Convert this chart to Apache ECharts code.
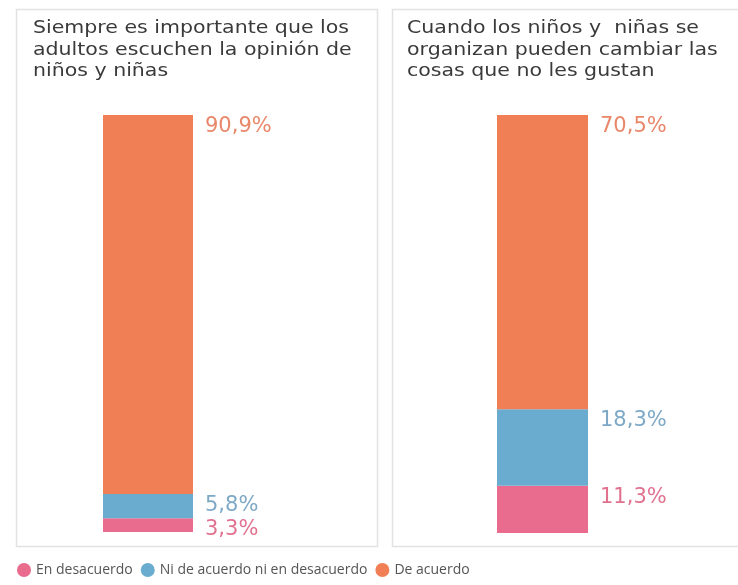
<!DOCTYPE html>
<html><head><meta charset="utf-8">
<script src="https://cdn.jsdelivr.net/npm/echarts@6/dist/echarts.min.js"></script>
<style>html,body{margin:0;padding:0;background:#fff}#c{width:738px;height:585px}</style>
</head><body><div id="c"></div>
<script>
const panelTitles = [
  'Siempre es importante que los\nadultos escuchen la opinión de\nniños y niñas',
  'Cuando los niños y  niñas se\norganizan pueden cambiar las\ncosas que no les gustan'
];
const seriesNames = ['En desacuerdo', 'Ni de acuerdo ni en desacuerdo', 'De acuerdo'];
const enDesacuerdo = [3.3, 11.3];
const niDeAcuerdoNiEnDesacuerdo = [5.8, 18.3];
const deAcuerdo = [90.9, 70.5];

const barColors = ['#e96b8d', '#6aacd0', '#f07f55'];
const labelColors = ['#e0728f', '#7ea9c6', '#e8876a'];
const values = [enDesacuerdo, niDeAcuerdoNiEnDesacuerdo, deAcuerdo];
const FONT = '"Open Sans", "Noto Sans", sans-serif';
const WIDE = '"DejaVu Sans", "Open Sans", sans-serif';

const chart = echarts.init(document.getElementById('c'), null, {renderer: 'canvas'});
const grids = [
  {left: 103, width: 90, top: 115, bottom: 53},
  {left: 497, width: 91, top: 115, bottom: 52}
];
const series = [];
for (let g = 0; g < 2; g++) {
  for (let s = 0; s < 3; s++) {
    series.push({
      name: seriesNames[s],
      type: 'bar',
      stack: 'p' + g,
      xAxisIndex: g,
      yAxisIndex: g,
      barWidth: '100%',
      itemStyle: {color: barColors[s]},
      data: [values[s][g]],
      label: {
        show: true,
        position: ['100%', 0],
        offset: [12, 1],
        align: 'left',
        verticalAlign: 'top',
        color: labelColors[s],
        fontFamily: WIDE,
        fontSize: 21,
        formatter: p => p.value.toFixed(1).replace('.', ',') + '%'
      }
    });
  }
}
const titleText = (txt, x) => ({
  type: 'text', x: x, y: 18, scaleX: 1.14, silent: true,
  style: {text: txt, fontFamily: WIDE, fontSize: 18, fill: '#3a3a3a', lineHeight: 21.5}
});
chart.setOption({
  animation: false,
  grid: grids,
  xAxis: [0, 1].map(i => ({type: 'category', gridIndex: i, data: [panelTitles[i]], show: false})),
  yAxis: [0, 1].map(i => ({type: 'value', gridIndex: i, min: 0, max: 100, show: false})),
  legend: {
    data: seriesNames,
    left: 12, top: 558,
    icon: 'circle', itemWidth: 14, itemHeight: 14, itemGap: 8,
    textStyle: {fontFamily: FONT, fontSize: 14, color: '#555'}
  },
  graphic: [
    {type: 'rect', shape: {x: 16.5, y: 9.5, width: 361, height: 537}, style: {fill: 'none', stroke: '#e2e2e2', lineWidth: 1.5}, silent: true},
    {type: 'rect', shape: {x: 392.5, y: 9.5, width: 360, height: 537}, style: {fill: 'none', stroke: '#e2e2e2', lineWidth: 1.5}, silent: true},
    titleText(panelTitles[0], 33),
    titleText(panelTitles[1], 407)
  ],
  series: series
});
</script></body></html>
